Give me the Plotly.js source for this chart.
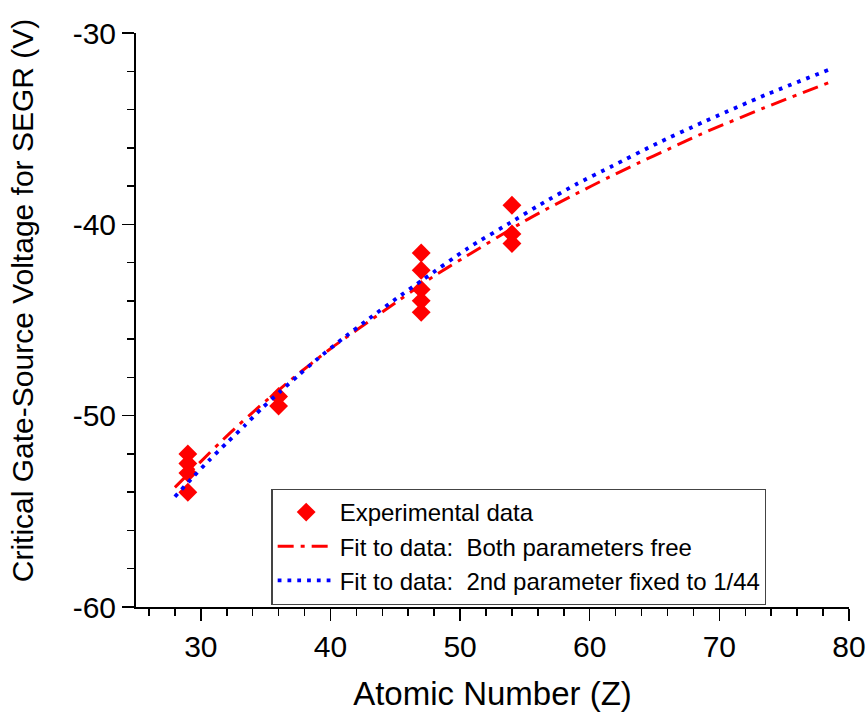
<!DOCTYPE html>
<html>
<head>
<meta charset="utf-8">
<script src="https://cdn.plot.ly/plotly-3.0.1.min.js"></script>
<style>html,body{margin:0;padding:0;background:#fff;}#chart{width:868px;height:712px;}</style>
</head>
<body>
<div id="chart"></div>
<script>
// Experimental data
var expZ = [29, 29, 29, 29, 36, 36, 47, 47, 47, 47, 47, 54, 54, 54];
var expV = [-52.0, -52.5, -53.0, -54.0, -49.0, -49.5, -41.5, -42.4, -43.4, -44.0, -44.6, -39.0, -40.5, -41.0];

// Fit: both parameters free
var fitFreeZ = [28.0, 30.0, 32.1, 34.5, 37.0, 40.0, 44.3, 47.9, 50.2, 54.9, 56.4, 58.9, 61.3, 63.7, 66.2, 68.6, 73.5, 78.4];
var fitFreeV = [-53.75, -52.4, -51.0, -49.53, -48.1, -46.5, -44.44, -42.74, -41.78, -39.86, -39.3, -38.42, -37.6, -36.81, -36.03, -35.28, -33.9, -32.6];

// Fit: 2nd parameter fixed to 1/44
var fitFixedZ = [28.0, 29.3, 30.6, 32.0, 33.4, 34.7, 36.1, 37.5, 38.9, 40.9, 43.0, 45.1, 47.2, 50.6, 54.2, 56.2, 59.0, 61.75, 65.2, 68.7, 73.55, 78.4];
var fitFixedV = [-54.24, -53.28, -52.36, -51.42, -50.51, -49.62, -48.75, -47.91, -47.09, -46.0, -44.92, -43.87, -42.86, -41.25, -39.78, -38.96, -37.89, -36.95, -35.77, -34.67, -33.24, -31.93];

var seriesNames = ["Experimental data", "Fit to data:\u00a0\u00a0Both parameters free", "Fit to data:\u00a0\u00a02nd parameter fixed to 1/44"];

var xTickVals = [30, 40, 50, 60, 70, 80];
var xTickText = ["30", "40", "50", "60", "70", "80"];
var yTickVals = [-30, -40, -50, -60];
var yTickText = ["-30", "-40", "-50", "-60"];

var xTitle = "Atomic Number (Z)";
var yTitle = "Critical Gate-Source Voltage for SEGR (V)";

var FONT = "Arial, 'Liberation Sans', sans-serif";

var traces = [
  {
    x: expZ, y: expV, type: "scatter", mode: "markers", name: seriesNames[0],
    marker: {symbol: "diamond", size: 14.5, color: "#ff0000", line: {width: 0}}
  },
  {
    x: fitFreeZ, y: fitFreeV, type: "scatter", mode: "lines", name: seriesNames[1],
    line: {color: "#ff0000", width: 3, dash: "16px,7px,4px,7px", shape: "spline", smoothing: 0.6}
  },
  {
    x: fitFixedZ, y: fitFixedV, type: "scatter", mode: "lines", name: seriesNames[2],
    line: {color: "#0000ff", width: 3.8, dash: "3.8px,6px", shape: "spline", smoothing: 0.6}
  }
];

var layout = {
  width: 868, height: 712,
  margin: {l: 136, r: 19, t: 33, b: 105, autoexpand: false},
  paper_bgcolor: "#ffffff", plot_bgcolor: "#ffffff",
  font: {family: FONT, color: "#000000"},
  showlegend: true,
  legend: {
    x: 0.19, y: 0.206, xanchor: "left", yanchor: "top",
    bgcolor: "#ffffff", bordercolor: "#444444", borderwidth: 1.2,
    font: {family: FONT, size: 24, color: "#000000"},
    itemwidth: 57, tracegroupgap: 0
  },
  xaxis: {
    range: [25, 80], autorange: false,
    tickmode: "array", tickvals: xTickVals, ticktext: xTickText,
    ticks: "outside", ticklen: 12, tickwidth: 1.5, tickcolor: "#000",
    minor: {tickmode: "linear", tick0: 0, dtick: 2, ticks: "outside", ticklen: 7, tickwidth: 1.5, tickcolor: "#000"},
    showline: true, linecolor: "#000", linewidth: 2, mirror: false,
    showgrid: false, zeroline: false,
    tickfont: {family: FONT, size: 30, color: "#000"},
    title: {text: xTitle, font: {family: FONT, size: 33, color: "#000"}, standoff: 24}
  },
  yaxis: {
    range: [-60, -30], autorange: false,
    tickmode: "array", tickvals: yTickVals, ticktext: yTickText,
    ticks: "outside", ticklen: 12, tickwidth: 1.5, tickcolor: "#000",
    minor: {tickmode: "linear", tick0: 0, dtick: 2, ticks: "outside", ticklen: 7, tickwidth: 1.5, tickcolor: "#000"},
    showline: true, linecolor: "#000", linewidth: 2, mirror: false,
    showgrid: false, zeroline: false,
    tickfont: {family: FONT, size: 30, color: "#000"}
  },
  annotations: [
    {text: yTitle, xref: "paper", yref: "paper", x: -0.158, y: 0.535, xanchor: "center", yanchor: "middle",
     textangle: -90, showarrow: false, font: {family: FONT, size: 30, color: "#000"}}
  ],
  shapes: [
    {type: "line", xref: "paper", yref: "paper", x0: -0.0154, x1: 0, y0: 0, y1: 0, line: {color: "#000", width: 2}}
  ]
};

Plotly.newPlot("chart", traces, layout, {displayModeBar: false, staticPlot: true});
</script>
</body>
</html>
